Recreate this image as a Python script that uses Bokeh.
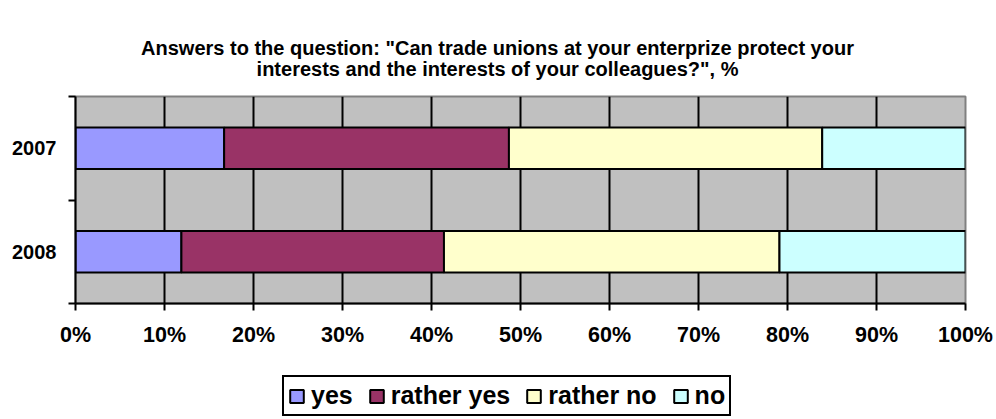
from bokeh.plotting import figure
from bokeh.layouts import column
from bokeh.models import Range1d, FixedTicker, Legend, LegendItem, ColumnDataSource, Label
from bokeh.embed import file_html
from bokeh.resources import INLINE

# ---- data ----
years = ["2008", "2007"]
year_pos = [0.5, 1.5]
yes = [11.9, 16.7]
rather_yes = [29.5, 32.0]
rather_no = [37.7, 35.2]
no = [20.9, 16.1]
categories = ["yes", "rather yes", "rather no", "no"]
colors = ["#9999FF", "#993366", "#FFFFCC", "#CCFFFF"]
x_ticks = [0, 10, 20, 30, 40, 50, 60, 70, 80, 90, 100]
x_tick_labels = ["0%", "10%", "20%", "30%", "40%", "50%", "60%", "70%", "80%", "90%", "100%"]
title_lines = [
    'Answers to the question: "Can trade unions at your enterprize protect your',
    'interests and the interests of your colleagues?", %',
]

FONT = "Liberation Sans"

source = ColumnDataSource(dict(y=year_pos, yes=yes, rather_yes=rather_yes,
                               rather_no=rather_no, no=no))
stackers = ["yes", "rather_yes", "rather_no", "no"]

# ---- title strip ----
head = figure(width=996, height=80, output_backend="svg", toolbar_location=None,
              x_axis_type=None, y_axis_type=None, min_border=0,
              x_range=Range1d(0, 1), y_range=Range1d(0, 1))
head.outline_line_color = None
head.background_fill_color = "white"
head.border_fill_color = "white"
head.grid.visible = False
for i, line in enumerate(title_lines):
    head.add_layout(Label(x=422, y=33 - 21 * i, x_units="screen", y_units="screen",
                          text=line, text_align="center", text_baseline="middle",
                          text_font=FONT, text_font_style="bold",
                          text_font_size="20px", text_color="black"))

# ---- main chart ----
p = figure(width=996, height=280, output_backend="svg", toolbar_location=None,
           x_range=Range1d(0, 100), y_range=Range1d(0, 2),
           min_border_left=75, min_border_right=31, min_border_top=16,
           min_border_bottom=57, title=None)

p.background_fill_color = "#C0C0C0"
p.border_fill_color = "white"
p.outline_line_color = "#808080"
p.outline_line_width = 2

p.hbar_stack(stackers, y="y", height=0.4, source=source,
             fill_color=colors, line_color="black", line_width=2)

# grid
p.ygrid.visible = False
p.xgrid.ticker = FixedTicker(ticks=x_ticks[1:-1])
p.xgrid.grid_line_color = "black"
p.xgrid.grid_line_width = 2

# x axis
xa = p.xaxis[0]
xa.ticker = FixedTicker(ticks=x_ticks)
xa.major_label_overrides = {t: l for t, l in zip(x_ticks, x_tick_labels)}
xa.axis_line_color = "black"
xa.axis_line_width = 2
xa.major_tick_line_color = "black"
xa.major_tick_line_width = 2
xa.major_tick_in = 0
xa.major_tick_out = 7
xa.minor_tick_line_color = None
xa.major_label_text_font = FONT
xa.major_label_text_font_style = "bold"
xa.major_label_text_font_size = "21.5px"
xa.major_label_text_color = "black"
xa.major_label_standoff = 12

# y axis: labels at centres, ticks at boundaries (minor ticks)
ya = p.yaxis[0]
ya.ticker = FixedTicker(ticks=year_pos, minor_ticks=[0, 1, 2])
ya.major_label_overrides = {pos: yr for pos, yr in zip(year_pos, years)}
ya.axis_line_color = "black"
ya.axis_line_width = 2
ya.major_tick_line_color = None
ya.major_tick_in = 0
ya.major_tick_out = 0
ya.minor_tick_line_color = "black"
ya.minor_tick_line_width = 2
ya.minor_tick_in = 0
ya.minor_tick_out = 7
ya.major_label_text_font = FONT
ya.major_label_text_font_style = "bold"
ya.major_label_text_font_size = "20px"
ya.major_label_text_color = "black"
ya.major_label_standoff = 12

# ---- legend strip (its bars are hidden; only the legend keys show) ----
leg = figure(width=996, height=59, output_backend="svg", toolbar_location=None,
             x_axis_type=None, y_axis_type=None, min_border=0,
             x_range=Range1d(0, 100), y_range=Range1d(0, 2))
leg.outline_line_color = None
leg.background_fill_color = "white"
leg.border_fill_color = "white"
leg.grid.visible = False
renderers = leg.hbar_stack(stackers, y="y", height=0.4, source=source,
                           fill_color=colors, line_color="black", line_width=2)
for r in renderers:
    r.visible = False
items = [LegendItem(label=c, renderers=[r]) for c, r in zip(categories, renderers)]
legend = Legend(items=items, orientation="horizontal", location=(207, 3),
                glyph_width=17, glyph_height=16, label_standoff=6, spacing=15,
                padding=4, margin=0, inactive_fill_alpha=0,
                label_text_font=FONT, label_text_font_style="bold",
                label_text_font_size="25px", label_text_color="black",
                border_line_color="black", border_line_width=2, border_line_alpha=1,
                background_fill_color="white", background_fill_alpha=1)
leg.add_layout(legend, "center")

layout = column(head, p, leg, spacing=0)
open("out.html", "w").write(file_html(layout, INLINE))
